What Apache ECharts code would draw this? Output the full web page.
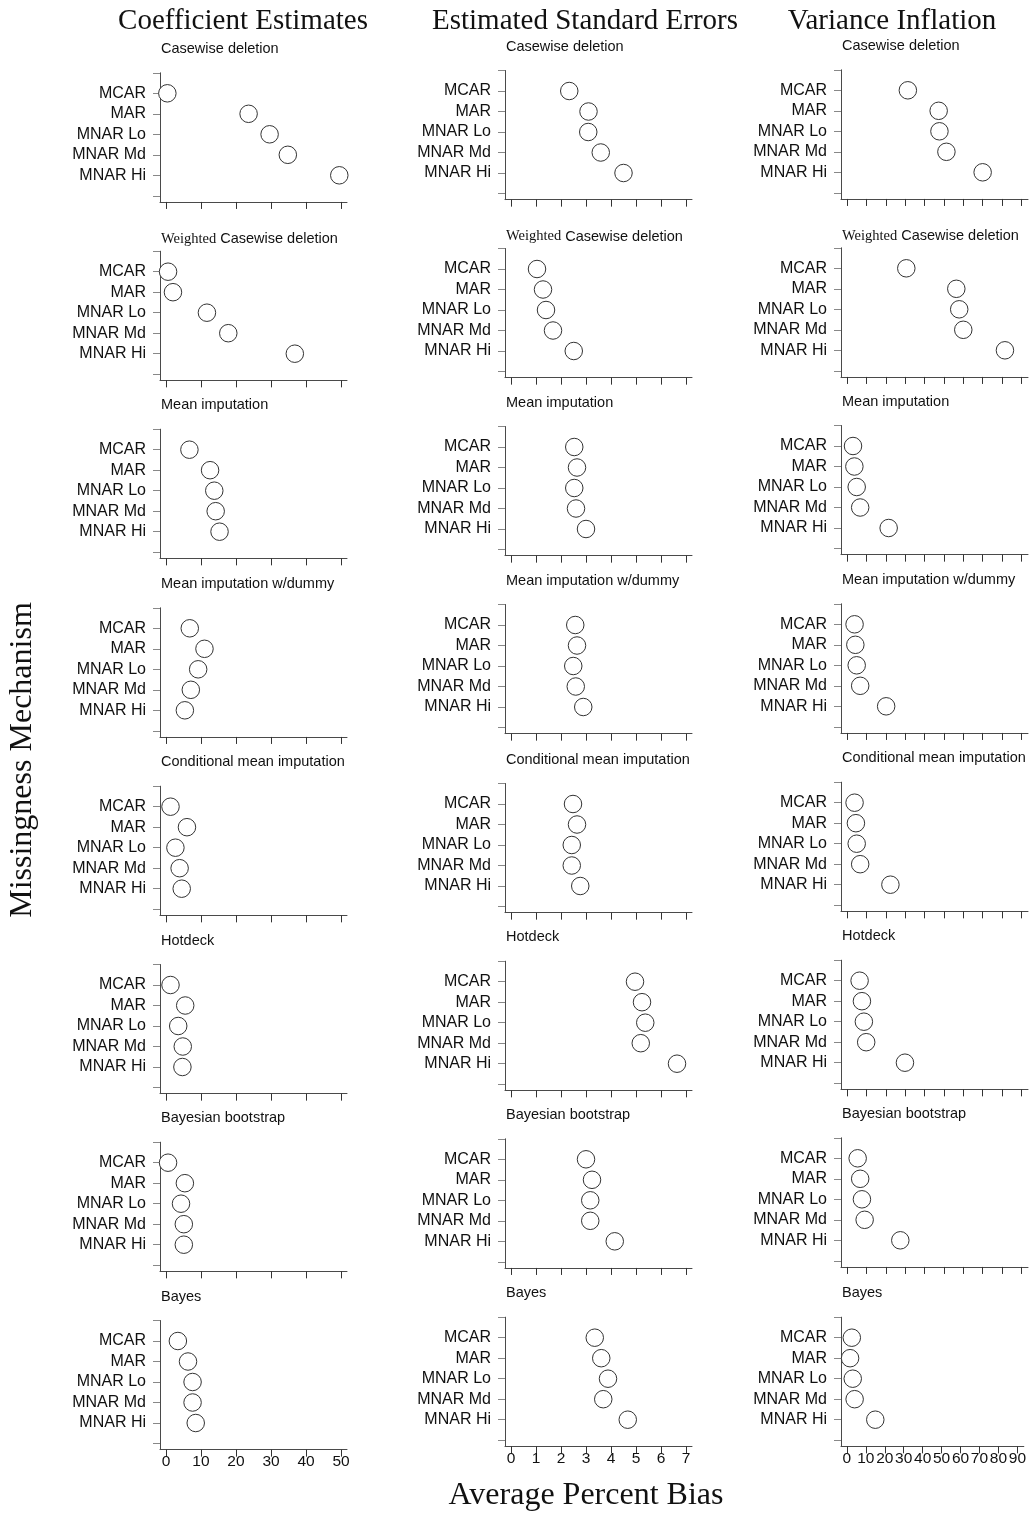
<!DOCTYPE html>
<html>
<head>
<meta charset="utf-8">
<script src="https://cdn.jsdelivr.net/npm/echarts@6/dist/echarts.min.js"></script>
<style>
html,body{margin:0;padding:0;background:#fff;}
#chart{width:1029px;height:1514px;}
</style>
</head>
<body>
<div id="chart"></div>
<script>
// ---------- data ----------
const categories = ['MCAR', 'MAR', 'MNAR Lo', 'MNAR Md', 'MNAR Hi'];
const methods = ['Casewise deletion', 'Weighted Casewise deletion', 'Mean imputation',
  'Mean imputation w/dummy', 'Conditional mean imputation', 'Hotdeck', 'Bayesian bootstrap', 'Bayes'];
const columnTitles = ['Coefficient Estimates', 'Estimated Standard Errors', 'Variance Inflation'];
const yAxisTitle = 'Missingness Mechanism';
const xAxisTitle = 'Average Percent Bias';

const coefTicks = [0, 10, 20, 30, 40, 50];
const seTicks = [0, 1, 2, 3, 4, 5, 6, 7];
const vifTicks = [0, 10, 20, 30, 40, 50, 60, 70, 80, 90];

// values per method, in category order MCAR, MAR, MNAR Lo, MNAR Md, MNAR Hi
const coefficientEstimates = [
  [0.4, 23.6, 29.6, 34.8, 49.5],
  [0.6, 2.0, 11.7, 17.8, 36.8],
  [6.7, 12.6, 13.8, 14.2, 15.3],
  [6.8, 11.0, 9.2, 7.1, 5.4],
  [1.3, 6.0, 2.7, 3.9, 4.5],
  [1.3, 5.5, 3.5, 4.8, 4.7],
  [0.6, 5.4, 4.3, 5.1, 5.1],
  [3.4, 6.3, 7.6, 7.6, 8.5]
];
const standardErrors = [
  [2.33, 3.10, 3.09, 3.59, 4.50],
  [1.04, 1.28, 1.40, 1.68, 2.51],
  [2.53, 2.64, 2.53, 2.60, 3.00],
  [2.57, 2.64, 2.49, 2.59, 2.89],
  [2.48, 2.64, 2.43, 2.43, 2.77],
  [4.96, 5.24, 5.37, 5.19, 6.64],
  [3.00, 3.24, 3.17, 3.17, 4.15],
  [3.35, 3.61, 3.88, 3.69, 4.67]
];
const varianceInflation = [
  [31.4, 47.3, 47.7, 51.3, 70.0],
  [30.6, 56.4, 57.9, 60.0, 81.5],
  [3.1, 3.8, 5.0, 6.8, 21.5],
  [3.9, 4.3, 5.0, 6.8, 20.2],
  [3.9, 4.6, 5.0, 6.8, 22.4],
  [6.5, 7.7, 8.7, 9.9, 29.9],
  [5.5, 6.8, 7.7, 9.1, 27.5],
  [2.6, 1.7, 3.1, 4.1, 15.0]
];

// ---------- layout ----------
const columns = [
  { values: coefficientEstimates, ticks: coefTicks, axisX: 160, min: -1.7, max: 51.7,
    mcarY: [93.3, 271.7, 449.7, 628.3, 806.7, 985, 1162.7, 1341] },
  { values: standardErrors, ticks: seTicks, axisX: 505, min: -0.24, max: 7.24,
    mcarY: [91, 269, 447, 625, 804, 981.7, 1159.3, 1337.7] },
  { values: varianceInflation, ticks: vifTicks, axisX: 841, min: -3.1, max: 93.4,
    mcarY: [90.3, 268.3, 446, 624.3, 802.7, 980.7, 1158.3, 1337.7] }
];
const headerX = [243, 585, 892];
const ROW = 20.5, GRID_W = 187;
const SANS = '"Liberation Sans", Arial, Helvetica, sans-serif';
const SERIF = '"Liberation Serif", "Times New Roman", serif';
const AXIS_COLOR = '#4a4a4a';

const grids = [], xAxes = [], yAxes = [], series = [], titles = [];
let idx = 0;
columns.forEach((col, c) => {
  methods.forEach((m, r) => {
    const top = col.mcarY[r] - ROW;
    grids.push({ left: col.axisX, top: top, width: GRID_W, height: ROW * 6.3 });
    const last = r === methods.length - 1;
    xAxes.push({
      gridIndex: idx, type: 'value', min: col.min, max: col.max,
      splitLine: { show: false },
      axisLine: { show: true, onZero: false, lineStyle: { color: AXIS_COLOR, width: 1 } },
      axisTick: { show: true, length: 7, customValues: col.ticks, lineStyle: { color: '#333', width: 1 } },
      axisLabel: { show: last, customValues: col.ticks, margin: 4, color: '#111',
        fontSize: 15.5, fontFamily: SANS, hideOverlap: false }
    });
    yAxes.push({
      gridIndex: idx, type: 'value', inverse: true, min: 0, max: 6.3,
      splitLine: { show: false },
      axisLine: { show: true, onZero: false, lineStyle: { color: AXIS_COLOR, width: 1 } },
      axisTick: { show: true, length: 7, customValues: [0, 1, 2, 3, 4, 5, 6], lineStyle: { color: '#888', width: 1 } },
      axisLabel: { show: true, customValues: [1, 2, 3, 4, 5], margin: 14, color: '#111',
        fontSize: 16, fontFamily: SANS, formatter: v => categories[Math.round(v) - 1] || '' }
    });
    series.push({
      type: 'scatter', xAxisIndex: idx, yAxisIndex: idx, clip: false,
      symbol: 'circle', symbolSize: 17.5,
      itemStyle: { color: '#fff', borderColor: '#333', borderWidth: 1, opacity: 1 },
      emphasis: { disabled: true },
      data: col.values[r].map((v, k) => [v, k + 1])
    });
    const weighted = m.startsWith('Weighted ');
    titles.push({
      left: col.axisX + 1,
      top: col.mcarY[r] - (weighted ? 32 : 44) - 8,
      padding: 0,
      text: weighted ? '{w|Weighted} ' + m.slice(9) : m,
      textStyle: {
        fontSize: 14.5, fontWeight: 'normal', color: '#111', fontFamily: SANS,
        rich: { w: { fontSize: 14.5, fontFamily: SERIF, color: '#111' } }
      }
    });
    idx++;
  });
});

const graphics = columnTitles.map((t, c) => ({
  type: 'text', x: headerX[c], y: 21,
  style: { text: t, fill: '#111', fontSize: 29, fontFamily: SERIF, align: 'center', verticalAlign: 'middle' }
}));
graphics.push({
  type: 'text', x: 586, y: 1496,
  style: { text: xAxisTitle, fill: '#111', fontSize: 32, fontFamily: SERIF, align: 'center', verticalAlign: 'middle' }
});
graphics.push({
  type: 'text', x: 23, y: 760, rotation: Math.PI / 2,
  style: { text: yAxisTitle, fill: '#111', fontSize: 32, fontFamily: SERIF, align: 'center', verticalAlign: 'middle' }
});

const chart = echarts.init(document.getElementById('chart'), null, { renderer: 'canvas' });
chart.setOption({
  animation: false,
  backgroundColor: '#fff',
  title: titles,
  grid: grids,
  xAxis: xAxes,
  yAxis: yAxes,
  series: series,
  graphic: graphics
});
</script>
</body>
</html>
